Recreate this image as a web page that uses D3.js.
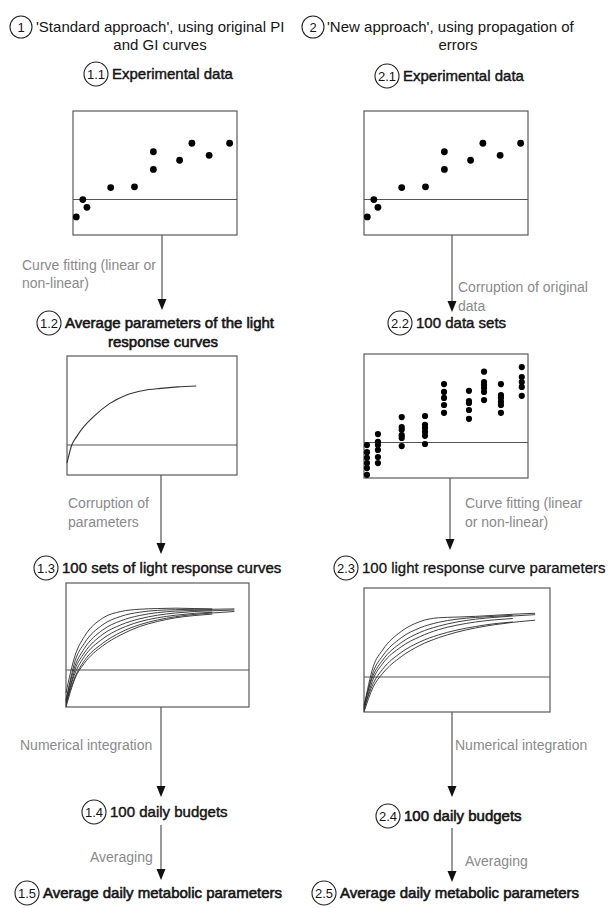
<!DOCTYPE html>
<html>
<head>
<meta charset="utf-8">
<script src="https://cdn.jsdelivr.net/npm/d3@7"></script>
<style>
  body { margin: 0; background: #fff; }
  svg { display: block; }
</style>
</head>
<body>
<svg id="fig" width="615" height="908"></svg>
<script>
// ---- data -------------------------------------------------------------
// Original experimental observations (irradiance in arbitrary units, rate)
const expLight = [0.2, 0.6, 0.85, 2.3, 3.75, 4.9, 4.9, 6.5, 7.25, 8.3, 9.55];
const expRate  = [-0.49, 0.0, -0.22, 0.34, 0.36, 1.35, 0.85, 1.11, 1.59, 1.25, 1.59];

// Corrupted replicate data sets: one column of rates per irradiance level
const setLight = [0.18, 0.85, 2.3, 3.72, 4.88, 6.4, 7.32, 8.35, 9.62];
const setRates = [
  [-0.07, -0.27, -0.43, -0.58, -0.72, -0.91],
  [0.24, 0.02, -0.07, -0.21, -0.41, -0.58],
  [0.72, 0.44, 0.36, 0.21, 0.13, -0.10],
  [0.75, 0.50, 0.41, 0.30, 0.19, -0.04],
  [1.65, 1.43, 1.26, 1.06, 0.84],
  [1.46, 1.17, 1.12, 0.92, 0.67],
  [2.00, 1.71, 1.63, 1.54, 1.43, 1.20],
  [1.65, 1.34, 1.26, 1.15, 1.06, 0.84],
  [2.13, 1.85, 1.71, 1.57, 1.32]
];

// Average light response curve
const avgLight = [0, 0.28, 0.57, 1.0, 1.55, 2.5, 3.5, 4.5, 5.5, 6.5, 7.6];
const avgRate  = [-0.6, 0, 0.28, 0.62, 0.94, 1.38, 1.67, 1.82, 1.89, 1.94, 1.97];

// Irradiance grid shared by the families of response curves
const curveLight = [0, 0.5, 1, 2, 3, 4, 5, 6, 7, 8, 9.2];

// Curves from corrupted parameters
const paramCurves = [
  [-0.62, 0.40, 0.90, 1.40, 1.58, 1.64, 1.66, 1.67, 1.66, 1.65],
  [-0.85, 0.25, 0.72, 1.22, 1.45, 1.56, 1.61, 1.63, 1.64, 1.64, 1.65],
  [-0.80, 0.12, 0.58, 1.08, 1.33, 1.47, 1.55, 1.59, 1.61, 1.62],
  [-0.95, 0.02, 0.46, 0.96, 1.22, 1.38, 1.48, 1.54, 1.58, 1.60, 1.62],
  [-0.85, -0.08, 0.36, 0.84, 1.12, 1.30, 1.41, 1.48, 1.53, 1.56],
  [-0.90, -0.18, 0.25, 0.72, 1.02, 1.22, 1.35, 1.44, 1.50, 1.54, 1.58],
  [-1.00, -0.22, 0.18, 0.65, 0.95, 1.17, 1.31, 1.41, 1.47, 1.51]
];

// Curves fitted to the corrupted data sets
const fittedCurves = [
  [-0.85, 0.30, 0.77, 1.30, 1.58, 1.69, 1.71, 1.73, 1.76, 1.79, 1.82],
  [-0.90, 0.15, 0.60, 1.12, 1.40, 1.56, 1.65, 1.70, 1.73, 1.76],
  [-0.80, 0.05, 0.48, 0.98, 1.27, 1.45, 1.57, 1.65, 1.70, 1.74, 1.78],
  [-0.95, -0.05, 0.38, 0.86, 1.15, 1.35, 1.48, 1.57, 1.63, 1.67],
  [-0.90, -0.18, 0.22, 0.70, 1.00, 1.20, 1.34, 1.44, 1.52, 1.57],
  [-1.00, -0.28, 0.10, 0.58, 0.90, 1.12, 1.28, 1.40, 1.49, 1.56, 1.62]
];

// ---- drawing ----------------------------------------------------------
const svg = d3.select("#fig");
const FONT = "'Liberation Sans', Arial, Helvetica, sans-serif";
const INK = "#151515";
const GREY = "#8a8a8a";

// plot frame with its own scales and a zero line
function frame(f) {
  const x = d3.scaleLinear().domain([0, 10]).range([f.x0, f.x1]);
  const y = d3.scaleLinear().domain(f.yDom).range([f.y1, f.y0]);
  const g = svg.append("g");
  g.append("rect")
    .attr("x", f.x0).attr("y", f.y0)
    .attr("width", f.x1 - f.x0).attr("height", f.y1 - f.y0)
    .attr("fill", "none").attr("stroke", "#5a5a5a").attr("stroke-width", 1.2);
  g.append("line")
    .attr("x1", x(0)).attr("x2", x(10))
    .attr("y1", y(0)).attr("y2", y(0))
    .attr("stroke", "#555").attr("stroke-width", 1.1);
  return { g, x, y };
}

function arrow(x, y1, y2) {
  const g = svg.append("g");
  g.append("line").attr("x1", x).attr("x2", x).attr("y1", y1).attr("y2", y2 - 8)
    .attr("stroke", "#444").attr("stroke-width", 1.1);
  g.append("path")
    .attr("d", `M${x - 4.5},${y2 - 11}L${x + 4.5},${y2 - 11}L${x},${y2}Z`)
    .attr("fill", "#111");
}

function badge(cx, cy, r, label, size) {
  svg.append("circle").attr("cx", cx).attr("cy", cy).attr("r", r)
    .attr("fill", "#fff").attr("stroke", "#222").attr("stroke-width", 1.1);
  svg.append("text").attr("x", cx).attr("y", cy + size * 0.36)
    .attr("text-anchor", "middle").attr("font-family", FONT)
    .attr("font-size", size).attr("fill", INK).text(label);
}

function text(x, y, str, opts = {}) {
  const t = svg.append("text").attr("x", x).attr("y", y)
    .attr("font-family", FONT)
    .attr("font-size", opts.size || 14)
    .attr("text-anchor", opts.anchor || "start")
    .attr("fill", opts.fill || INK)
    .text(str);
  if (opts.heavy) {
    // medium weight: regular face thickened with a thin outline
    t.attr("stroke", opts.fill || INK).attr("stroke-width", opts.heavy);
  }
}

// headings
badge(21, 27, 11, "1", 13);
text(36, 32, "'Standard approach', using original PI", { size: 15 });
text(160, 50, "and GI curves", { size: 15, anchor: "middle" });
badge(313, 27, 11, "2", 13);
text(327, 32, "'New approach', using propagation of", { size: 15 });
text(458, 50, "errors", { size: 15, anchor: "middle" });

// step labels
const st = { size: 15, heavy: 0.45 };
badge(96, 74, 12, "1.1", 13);  text(112, 79, "Experimental data", st);
badge(387, 76, 12, "2.1", 13); text(403, 81, "Experimental data", st);
badge(49, 323, 12, "1.2", 13); text(65, 328, "Average parameters of the light", { size: 15, heavy: 0.6 });
text(163, 347, "response curves", { size: 15, heavy: 0.6, anchor: "middle" });
badge(400, 323, 12, "2.2", 13); text(416, 328, "100 data sets", st);
badge(46, 568, 12, "1.3", 13); text(62, 573, "100 sets of light response curves", st);
badge(346, 568, 12, "2.3", 13); text(362, 573, "100 light response curve parameters", { size: 15, heavy: 0.3 });
badge(94, 812, 12, "1.4", 13); text(110, 817, "100 daily budgets", st);
badge(388, 816, 12, "2.4", 13); text(404, 821, "100 daily budgets", { size: 15, heavy: 0.6 });
badge(27, 893, 12, "1.5", 13); text(43, 898, "Average daily metabolic parameters", { size: 15, heavy: 0.6 });
badge(324, 893, 12, "2.5", 13); text(340, 898, "Average daily metabolic parameters", { size: 15, heavy: 0.6 });

// process annotations
const g1 = { fill: GREY };
text(22, 270, "Curve fitting (linear or", g1);
text(22, 288, "non-linear)", g1);
text(458, 292, "Corruption of original", g1);
text(458, 311, "data", g1);
text(68, 508, "Corruption of", g1);
text(68, 527, "parameters", g1);
text(465, 508, "Curve fitting (linear", g1);
text(465, 527, "or non-linear)", g1);
text(20, 750, "Numerical integration", g1);
text(455, 750, "Numerical integration", g1);
text(90, 862, "Averaging", g1);
text(465, 866, "Averaging", g1);

// arrows
arrow(162, 235, 310);
arrow(161, 475, 554);
arrow(161, 707, 797);
arrow(161, 825, 880);
arrow(452, 235, 312);
arrow(450, 478, 550);
arrow(452, 712, 797);
arrow(452, 828, 882);

// panel 1.1 and 2.1: experimental data
[{ x0: 73, x1: 237, y0: 111, y1: 235, yDom: [-1, 2.5] },
 { x0: 364, x1: 528, y0: 111, y1: 235, yDom: [-1, 2.5] }].forEach(f => {
  const p = frame(f);
  p.g.selectAll("circle.obs").data(expLight).join("circle")
    .attr("class", "obs")
    .attr("cx", (d) => p.x(d)).attr("cy", (d, i) => p.y(expRate[i]))
    .attr("r", 3.4).attr("fill", "#000");
});

// panel 2.2: 100 corrupted data sets
{
  const p = frame({ x0: 364, x1: 528, y0: 354, y1: 478, yDom: [-1, 2.5] });
  const pts = setLight.flatMap((lx, i) => setRates[i].map(r => [lx, r]));
  p.g.selectAll("circle.rep").data(pts).join("circle")
    .attr("class", "rep")
    .attr("cx", d => p.x(d[0])).attr("cy", d => p.y(d[1]))
    .attr("r", 3.1).attr("fill", "#000");
}

// panel 1.2: average response curve
{
  const p = frame({ x0: 67, x1: 237, y0: 356, y1: 475, yDom: [-1, 2.97] });
  const line = d3.line().x(d => p.x(d[0])).y(d => p.y(d[1])).curve(d3.curveMonotoneX);
  p.g.append("path").datum(avgLight.map((lx, i) => [lx, avgRate[i]]))
    .attr("d", line).attr("fill", "none").attr("stroke", "#333").attr("stroke-width", 1.1);
}

// panel 1.3 and 2.3: families of response curves
function family(f, curves) {
  const p = frame(f);
  const line = d3.line().x(d => p.x(d[0])).y(d => p.y(d[1])).curve(d3.curveMonotoneX);
  p.g.selectAll("path.fam").data(curves).join("path")
    .attr("class", "fam")
    .attr("d", c => line(c.map((v, i) => [curveLight[i], v])))
    .attr("fill", "none").attr("stroke", "#2a2a2a").attr("stroke-width", 0.9);
}
family({ x0: 66, x1: 249, y0: 583, y1: 707, yDom: [-1, 2.35] }, paramCurves);
family({ x0: 364, x1: 550, y0: 588, y1: 712, yDom: [-1, 2.54] }, fittedCurves);
</script>
</body>
</html>
